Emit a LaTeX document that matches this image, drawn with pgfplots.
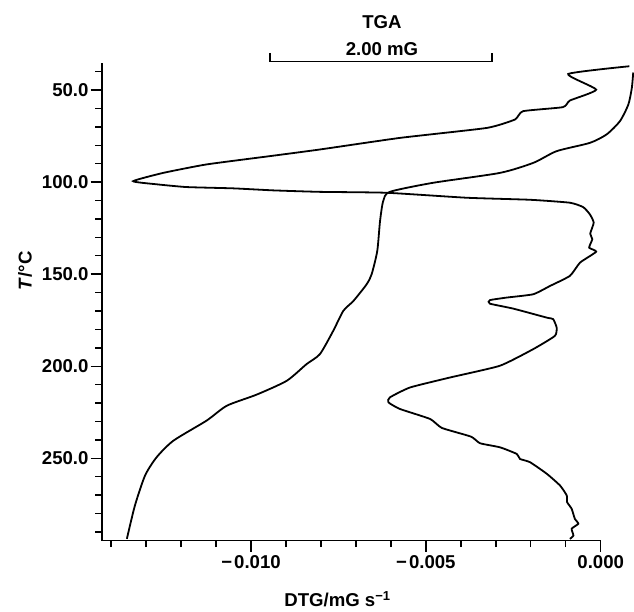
\documentclass[border=0pt]{standalone}
\usepackage{pgfplots}
\pgfplotsset{compat=1.18}
\usepackage{fontspec}
\setmainfont{Liberation Sans}
\newcommand\lbl{\fontsize{18.6}{22}\selectfont\bfseries}
\begin{document}
\begin{tikzpicture}[x=1pt,y=1pt]
\path[use as bounding box] (0,0) rectangle (634,612);
\begin{axis}[
  at={(101.7pt,71.5pt)}, anchor=south west, scale only axis,
  width=499pt, height=477.2pt,
  xmin=-0.01427, xmax=0, ymin=35.5, ymax=294.6,
  y dir=reverse, clip=false,
  axis x line=bottom, axis y line=left,
  axis line style={-, line width=1.6pt},
  tick align=outside, major tick length=11pt, minor tick length=6.5pt,
  every tick/.append style={black, line width=1.4pt},
  scaled x ticks=false,
  xtick={-0.01,-0.005,0}, xticklabels={−\kern2pt0.010,−\kern2pt0.005,0.000},
  minor xtick={-0.014,-0.013,-0.012,-0.011,-0.009,-0.008,-0.007,-0.006,-0.004,-0.003,-0.002,-0.001},
  ytick={50,100,150,200,250}, yticklabels={50.0,100.0,150.0,200.0,250.0},
  minor ytick={40,60,70,80,90,110,120,130,140,160,170,180,190,210,220,230,240,260,270,280,290},
  tick label style={font=\lbl},
  yticklabel style={inner sep=0pt, xshift=-2pt},
  xticklabel style={inner sep=0pt, yshift=-4pt},
]
% DTG curve
\addplot[black, line width=1.8pt, smooth, tension=0.3] coordinates {
(0.00082,37.1) (-0.00093,41.3) (-0.00013,49.8) (-0.00088,55.7) (-0.00108,59.3)
(-0.00222,61.5) (-0.00245,66.0) (-0.00326,70.6) (-0.00574,76.0) (-0.00803,82.3)
(-0.00946,85.9) (-0.01127,90.4) (-0.01251,95.0) (-0.01337,99.5) (-0.01270,101.2)
(-0.01184,102.7) (-0.01051,103.4) (-0.00936,104.5) (-0.00803,105.3) (-0.00612,105.8)
(-0.00383,108.5) (-0.00202,109.6) (-0.00088,111.2) (-0.00050,113.6) (-0.00031,117.5)
(-0.00020,122.0) (-0.00030,128.0) (-0.00024,131.0) (-0.00033,135.6) (-0.00013,137.8)
(-0.00059,143.7) (-0.00088,150.9) (-0.00145,156.4) (-0.00193,160.9) (-0.00269,162.7)
(-0.00317,164.1) (-0.00317,166.0) (-0.00250,168.7) (-0.00154,173.6) (-0.00136,174.4)
(-0.00126,179.0) (-0.00131,183.5) (-0.00193,190.7) (-0.00288,199.7) (-0.00431,206.1)
(-0.00545,211.5) (-0.00603,216.9) (-0.00607,219.6) (-0.00574,223.2) (-0.00488,228.6)
(-0.00454,233.5) (-0.00371,238.2) (-0.00345,241.8) (-0.00288,244.0) (-0.00240,247.6)
(-0.00231,250.3) (-0.00202,252.1) (-0.00154,258.4) (-0.00116,264.8) (-0.00097,270.2)
(-0.00096,273.8) (-0.00083,277.4) (-0.00074,282.8) (-0.00064,285.5) (-0.00083,288.2)
(-0.00078,291.9) (-0.00088,293.7)
};
% TGA curve
\addplot[black, line width=1.8pt, smooth, tension=0.4] coordinates {
(0.00093,40.5) (0.00089,48.9) (0.00079,57.9) (0.00055,66.9) (0.00017,74.1)
(-0.00031,78.7) (-0.00126,83.2) (-0.00192,89.5) (-0.00288,95.0) (-0.00480,100.4)
(-0.00603,105.3) (-0.00622,110.3) (-0.00631,121.1) (-0.00639,137.4) (-0.00655,150.0)
(-0.00669,155.4) (-0.00707,164.5) (-0.00736,169.9) (-0.00765,180.8) (-0.00803,193.4)
(-0.00841,198.8) (-0.00898,207.9) (-0.00984,215.4) (-0.01069,221.4) (-0.01127,229.5)
(-0.01222,240.4) (-0.01270,249.4) (-0.01303,259.3) (-0.01332,275.6) (-0.01355,293.7)
};
\end{axis}
% scale bar and labels
\draw[line width=1.5pt] (270,559) -- (270,550.3) -- (492,550.3) -- (492,559);
\node[anchor=base, inner sep=0pt, font=\lbl] at (382,583.7) {TGA};
\node[anchor=base, inner sep=0pt, font=\lbl] at (382,556) {2.00 mG};
\node[anchor=base, inner sep=0pt, font=\lbl] at (337.5,5.3) {DTG/mG s\textsuperscript{−1}};
\node[anchor=base, inner sep=0pt, rotate=90, font=\lbl] at (31.7,341.2) {\textit{T}/°C};
\end{tikzpicture}
\end{document}
